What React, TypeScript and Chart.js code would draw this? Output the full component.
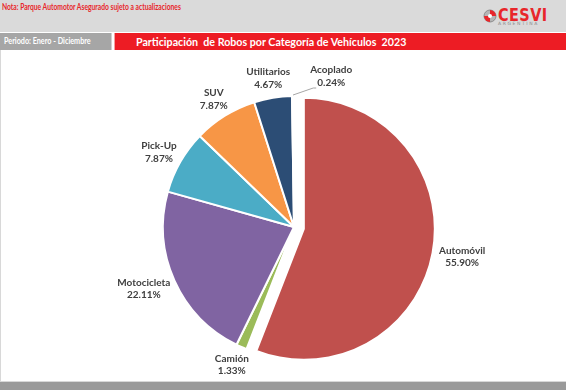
import React, { useEffect, useRef } from "react";
import { Chart, registerables } from "chart.js";

Chart.register(...registerables);

const categories = ["Automóvil", "Camión", "Motocicleta", "Pick-Up", "SUV", "Utilitarios", "Acoplado"];
const shares = [55.9, 1.33, 22.11, 7.87, 7.87, 4.67, 0.24];
const percentLabels = ["55.90%", "1.33%", "22.11%", "7.87%", "7.87%", "4.67%", "0.24%"];
const colors = ["#C0504D", "#9BBB59", "#8064A2", "#4BACC6", "#F79646", "#2C4D75", "#4F81BD"];

const EXPLODE_INDEX = 0;
const EXPLODE_PX = 10;
const LABEL_FONT = "bold 10px Lato";
const LINE_H = 12.5;
const GAP = 7;

const explodePlugin = {
  id: "explodeSlice",
  afterDatasetUpdate(chart: any, args: any) {
    const meta = chart.getDatasetMeta(args.index);
    const arc = meta.data[EXPLODE_INDEX];
    if (!arc) return;
    const mid = (arc.startAngle + arc.endAngle) / 2;
    arc.x += Math.cos(mid) * EXPLODE_PX;
    arc.y += Math.sin(mid) * EXPLODE_PX;
  },
};

const labelPlugin = {
  id: "outsideLabels",
  afterDatasetsDraw(chart: any) {
    const ctx = chart.ctx as CanvasRenderingContext2D;
    const meta = chart.getDatasetMeta(0);
    ctx.save();
    ctx.font = LABEL_FONT;
    ctx.textAlign = "center";
    ctx.textBaseline = "middle";
    const placed: any[] = [];
    meta.data.forEach((arc: any, i: number) => {
      const mid = (arc.startAngle + arc.endAngle) / 2;
      const dx = Math.cos(mid);
      const dy = Math.sin(mid);
      const lines = [categories[i], percentLabels[i]];
      const w = Math.max(...lines.map((l) => ctx.measureText(l).width));
      const h = LINE_H * 2;
      const R = arc.outerRadius + GAP;
      let cx = arc.x + dx * R + (dx * w) / 2;
      let cy = arc.y + dy * R + (dy * h) / 2;
      let leader = false;
      const boxOf = () => ({ l: cx - w / 2, r: cx + w / 2, t: cy - h / 2, b: cy + h / 2, cx });
      let box = boxOf();
      for (const p of placed) {
        if (box.l < p.r && box.r > p.l && box.t < p.b && box.b > p.t) {
          if (cx >= p.cx) cx = p.r + 20 + w / 2;
          else cx = p.l - 20 - w / 2;
          leader = true;
          box = boxOf();
        }
      }
      placed.push(box);
      if (leader) {
        const px = arc.x + dx * (arc.outerRadius + 1);
        const py = arc.y + dy * (arc.outerRadius + 1);
        const w2 = ctx.measureText(lines[1]).width;
        const ex = cx - w2 / 2 - 1;
        const ey = box.b - 1;
        ctx.strokeStyle = "#A6A6A6";
        ctx.lineWidth = 1;
        ctx.beginPath();
        ctx.moveTo(px, py);
        ctx.lineTo(ex - 3, ey);
        ctx.lineTo(ex, ey);
        ctx.stroke();
      }
      ctx.fillStyle = "#404040";
      ctx.fillText(lines[0], cx, cy - LINE_H / 2);
      ctx.fillText(lines[1], cx, cy + LINE_H / 2);
    });
    ctx.restore();
  },
};

function PieChart() {
  const ref = useRef<HTMLCanvasElement | null>(null);
  useEffect(() => {
    if (!ref.current) return;
    const chart = new Chart(ref.current, {
      type: "pie",
      data: {
        labels: categories,
        datasets: [
          {
            data: shares,
            backgroundColor: colors,
            borderColor: "#FFFFFF",
            borderWidth: 2,
            radius: 131,
          } as any,
        ],
      },
      options: {
        animation: false,
        responsive: false,
        maintainAspectRatio: false,
        events: [],
        layout: { padding: { top: 23, left: 22, right: 0, bottom: 0 } },
        plugins: {
          legend: { display: false },
          tooltip: { enabled: false },
        },
      },
      plugins: [explodePlugin, labelPlugin],
    });
    return () => chart.destroy();
  }, []);
  return <canvas ref={ref} width={566} height={331} style={{ position: "absolute", left: 0, top: 50, width: 566, height: 331 }} />;
}

export default function App() {
  return (
    <div style={{ position: "fixed", left: 0, top: 0, width: 566, height: 390, background: "#FFFFFF", overflow: "hidden", fontFamily: "Lato, sans-serif" }}>
      <div style={{ position: "absolute", left: 0, top: 0, width: 566, height: 32, background: "#DADADA" }} />
      <div style={{ position: "absolute", left: 2, top: 2, fontSize: 8.5, fontWeight: 700, color: "#E8262A", whiteSpace: "nowrap", transform: "scaleX(0.79)", transformOrigin: "left top" }}>
        Nota: Parque Automotor Asegurado sujeto a actualizaciones
      </div>
      <svg style={{ position: "absolute", left: 483, top: 9 }} width={14} height={14} viewBox="0 0 14 14">
        <circle cx="7" cy="7" r="6" fill="#B5B5B5" stroke="#8C8C8C" strokeWidth="1" />
        <path d="M7 7 L7 1 A6 6 0 0 1 13 7 Z" fill="#E8262A" />
        <path d="M7 7 L7 13 A6 6 0 0 1 1 7 Z" fill="#E8262A" />
        <circle cx="7" cy="7" r="2" fill="#FFFFFF" />
      </svg>
      <div style={{ position: "absolute", left: 498, top: 5, fontSize: 17, fontWeight: 900, color: "#E8262A", letterSpacing: 0.5, whiteSpace: "nowrap", fontFamily: "'DejaVu Sans', sans-serif", transform: "scaleX(0.85)", transformOrigin: "left top" }}>
        CESVI
      </div>
      <div style={{ position: "absolute", left: 498, top: 21, fontSize: 4.5, color: "#8C8C8C", letterSpacing: 1.6, whiteSpace: "nowrap", fontFamily: "'DejaVu Sans', sans-serif" }}>
        ARGENTINA
      </div>
      <div style={{ position: "absolute", left: 0, top: 33, width: 111, height: 17, background: "#A6A6A6", borderRight: "1px solid #D0D0D0" }} />
      <div style={{ position: "absolute", left: 4, top: 36, fontSize: 8.5, fontWeight: 700, color: "#FFFFFF", whiteSpace: "nowrap", transform: "scaleX(0.85)", transformOrigin: "left top" }}>
        Periodo: Enero - Diciembre
      </div>
      <div style={{ position: "absolute", left: 114, top: 33, width: 452, height: 17, background: "#ED1C24", borderLeft: "1px solid #F4A0A0" }} />
      <div style={{ position: "absolute", left: 136, top: 34, fontSize: 12, fontWeight: 700, color: "#FFFFFF", whiteSpace: "pre", transform: "scaleX(0.89)", transformOrigin: "left top" }}>
        {"Participación  de Robos por Categoría de Vehículos  2023"}
      </div>
      <div style={{ position: "absolute", left: 0, top: 50, width: 1, height: 331, background: "#D8D8D8" }} />
      <PieChart />
      <div style={{ position: "absolute", left: 0, top: 381, width: 566, height: 9, background: "#9A9A9A", borderTop: "1px solid #D8D8D8" }} />
    </div>
  );
}
